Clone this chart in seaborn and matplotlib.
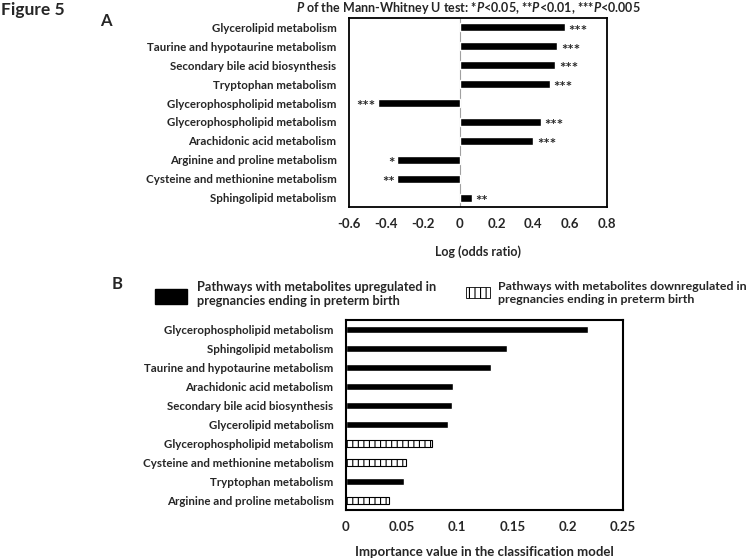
import matplotlib
matplotlib.use('Agg')
import matplotlib.pyplot as plt
from matplotlib.patches import Rectangle
import pandas as pd
import seaborn as sns

# Panel A: log odds ratio per pathway
pathways_a = ['Glycerolipid metabolism', 'Taurine and hypotaurine metabolism',
              'Secondary bile acid biosynthesis', 'Tryptophan metabolism',
              'Glycerophospholipid metabolism', 'Glycerophospholipid metabolism',
              'Arachidonic acid metabolism', 'Arginine and proline metabolism',
              'Cysteine and methionine metabolism', 'Sphingolipid metabolism']
log_odds = [0.57, 0.53, 0.52, 0.49, -0.445, 0.44, 0.40, -0.34, -0.34, 0.065]
signif_a = ['***', '***', '***', '***', '***', '***', '***', '*', '**', '**']
xticks_a = [-0.6, -0.4, -0.2, 0, 0.2, 0.4, 0.6, 0.8]
xticklabels_a = ['-0.6', '-0.4', '-0.2', '0', '0.2', '0.4', '0.6', '0.8']

# Panel B: importance in the classification model
pathways_b = ['Glycerophospholipid metabolism', 'Sphingolipid metabolism',
              'Taurine and hypotaurine metabolism', 'Arachidonic acid metabolism',
              'Secondary bile acid biosynthesis', 'Glycerolipid metabolism',
              'Glycerophospholipid metabolism', 'Cysteine and methionine metabolism',
              'Tryptophan metabolism', 'Arginine and proline metabolism']
importance = [0.218, 0.145, 0.131, 0.097, 0.096, 0.092, 0.078, 0.054, 0.052, 0.039]
direction_b = ['up', 'up', 'up', 'up', 'up', 'up', 'down', 'down', 'up', 'down']
xticks_b = [0, 0.05, 0.1, 0.15, 0.2, 0.25]
xticklabels_b = ['0', '0.05', '0.1', '0.15', '0.2', '0.25']

legend_up = 'Pathways with metabolites upregulated in\npregnancies ending in preterm birth'
legend_down = 'Pathways with metabolites downregulated in\npregnancies ending in preterm birth'

sns.set_theme(style='white')
plt.rcParams['font.family'] = ['Lato', 'DejaVu Sans']
plt.rcParams['font.weight'] = 'bold'
plt.rcParams['axes.labelweight'] = 'bold'
plt.rcParams['mathtext.fontset'] = 'custom'
plt.rcParams['mathtext.bfit'] = 'Lato:bold:italic'
plt.rcParams['hatch.linewidth'] = 0.8

W, H = 754, 559


def fx(px):
    return px / W


def fy(py):
    return 1 - py / H


fig = plt.figure(figsize=(W / 100, H / 100), dpi=100)
ax_a = fig.add_axes([fx(349), fy(207), (607 - 349) / W, (207 - 18) / H])
ax_b = fig.add_axes([fx(346), fy(510), (623 - 346) / W, (510 - 320) / H])

# ---- panel A
df_a = pd.DataFrame({'row': [str(i) for i in range(len(pathways_a))], 'value': log_odds})
sns.barplot(data=df_a, x='value', y='row', color='black', saturation=1,
            width=0.42, errorbar=None, ax=ax_a)
ax_a.axvline(0, color='#a0a0a0', lw=0.8, zorder=0)
for i, (v, s) in enumerate(zip(log_odds, signif_a)):
    if v >= 0:
        ax_a.text(v + 0.02, i + 0.22, s, ha='left', va='center', fontsize=11)
    else:
        ax_a.text(v - 0.012, i + 0.22, s, ha='right', va='center', fontsize=11)
ax_a.set_xlim(-0.6, 0.8)
ax_a.set_xticks(xticks_a)
ax_a.set_xticklabels(xticklabels_a, fontsize=9.5)
ax_a.set_yticks(range(len(pathways_a)))
ax_a.set_yticklabels(pathways_a, fontsize=8.3)
ax_a.set_ylabel('')
ax_a.set_xlabel('Log (odds ratio)', fontsize=9, labelpad=11)
ax_a.tick_params(length=0, pad=8)
ax_a.tick_params(axis='y', pad=9)
for sp in ax_a.spines.values():
    sp.set_color('black')
    sp.set_linewidth(1.3)

# ---- panel B
df_b = pd.DataFrame({'row': [str(i) for i in range(len(pathways_b))], 'value': importance})
sns.barplot(data=df_b, x='value', y='row', color='black', saturation=1,
            width=0.42, errorbar=None, ax=ax_b)
for bar, d in zip(ax_b.containers[0], direction_b):
    if d == 'down':
        bar.set_facecolor('white')
        bar.set_edgecolor('black')
        bar.set_linewidth(0.8)
        bar.set_hatch('|||')
ax_b.set_xlim(0, 0.25)
ax_b.set_xticks(xticks_b)
ax_b.set_xticklabels(xticklabels_b, fontsize=9.5)
ax_b.set_yticks(range(len(pathways_b)))
ax_b.set_yticklabels(pathways_b, fontsize=8.3)
ax_b.set_ylabel('')
ax_b.set_xlabel('Importance value in the classification model', fontsize=9.5, labelpad=9)
ax_b.tick_params(length=0, pad=8)
ax_b.tick_params(axis='y', pad=9)
for sp in ax_b.spines.values():
    sp.set_color('black')
    sp.set_linewidth(1.5)

# ---- legend for panel B
fig.add_artist(Rectangle((fx(155), fy(304)), 32 / W, 15 / H, transform=fig.transFigure,
                         facecolor='black', edgecolor='black'))
fig.add_artist(Rectangle((fx(466), fy(298)), 24 / W, 11 / H, transform=fig.transFigure,
                         facecolor='white', edgecolor='black', lw=0.6, hatch='|||'))
fig.text(fx(197), fy(294), legend_up, ha='left', va='center', fontsize=9.2, linespacing=1.2)
fig.text(fx(498), fy(293), legend_down, ha='left', va='center', fontsize=8.9, linespacing=1.2)

# ---- annotations
fig.text(fx(468), fy(8),
         r'$\mathbfit{P}$ of the Mann-Whitney U test: *$\mathbfit{P}$<0.05, '
         r'**$\mathbfit{P}$<0.01, ***$\mathbfit{P}$<0.005',
         ha='center', va='center', fontsize=9)
fig.text(fx(1), fy(10), 'Figure 5', ha='left', va='center', fontsize=12.5)
fig.text(fx(100), fy(21), 'A', ha='left', va='center', fontsize=12)
fig.text(fx(112), fy(284), 'B', ha='left', va='center', fontsize=12)

fig.savefig('out.png', dpi=100)
